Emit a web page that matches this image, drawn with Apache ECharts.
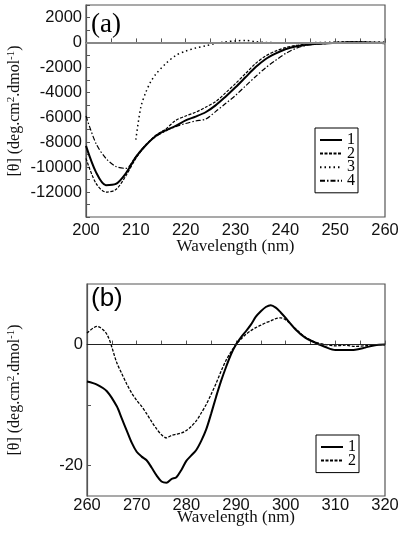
<!DOCTYPE html>
<html><head><meta charset="utf-8">
<script src="https://cdn.jsdelivr.net/npm/echarts@6/dist/echarts.min.js"></script>
<style>html,body{margin:0;padding:0;background:#fff}#c{width:400px;height:542px}</style>
</head><body><div id="c"></div>
<script>
// Panel (a)
const wlA = [200,202,204,206,208,210,212,214,216,218,220,222,224,226,228,230,232,234,236,238,240,242,244,246,248,250,252,254,256,258,260];
const a1 = [-8300,-10400,-11450,-11350,-10500,-9200,-8250,-7500,-7050,-6700,-6250,-5950,-5600,-5050,-4350,-3600,-2800,-2000,-1350,-900,-550,-320,-200,-130,-80,-30,0,20,0,-20,-50];
const a2 = [-9300,-11300,-12000,-11800,-10700,-9300,-8250,-7450,-6950,-6250,-5900,-5600,-5200,-4750,-4050,-3300,-2500,-1700,-1100,-700,-420,-250,-150,-100,-50,0,20,20,0,-30,-100];
const a4 = [-5900,-8100,-9300,-9950,-10100,-9150,-8200,-7550,-7100,-6750,-6500,-6300,-6150,-5550,-4900,-4250,-3500,-2750,-2050,-1450,-900,-500,-250,-150,-100,-50,0,20,0,-20,-50];
const wlA3 = [210,211,212,213,214,216,218,220,222,224,226,228,230,232,234,236,240,245,250,255,260];
const a3 = [-7800,-5200,-4000,-3150,-2550,-1700,-1050,-700,-450,-280,-80,50,120,160,60,0,-30,-20,20,50,20];
const namesA = ['1','2','3','4'];
const yLabelsA = [-12000,-10000,-8000,-6000,-4000,-2000,0,2000];
const xLabelsA = [200,210,220,230,240,250,260];

// Panel (b)
const wlB = [260,262,264,266,267,268,269,270,271,272,273,274,275,276,277,278,279,280,281,282,283,284,285,286,287,288,289,290,291,292,293,294,295,296,297,298,299,300,302,304,306,308,310,312,314,316,318,320];
const b1 = [-6.1,-6.6,-7.7,-10.2,-12.2,-14.2,-16.2,-17.7,-18.5,-19.1,-20.3,-21.6,-22.6,-22.8,-22.2,-21.9,-20.7,-19.2,-18.3,-17.4,-15.9,-14.0,-11.4,-8.6,-6.0,-3.7,-1.6,0,1.2,2.2,3.3,4.6,5.5,6.2,6.5,6.1,5.3,4.4,2.5,1.1,0.3,-0.4,-0.9,-0.9,-0.85,-0.5,-0.1,0];
const b2 = [1.9,3.0,1.7,-3.0,-4.8,-6.5,-8.0,-9.2,-10.2,-11.4,-12.7,-13.9,-14.9,-15.4,-15.0,-14.8,-14.6,-14.2,-13.5,-12.6,-11.3,-9.9,-8.2,-6.4,-4.4,-2.6,-1.2,0,0.9,1.7,2.3,2.8,3.2,3.6,3.9,4.3,4.4,4.1,2.6,1.2,0.4,0,-0.2,-0.1,-0.3,-0.2,0,0];
const namesB = ['1','2'];
const yLabelsB = [-20,0];
const xLabelsB = [260,270,280,290,300,310,320];

function range(a,b,s){const r=[];for(let v=a;v<=b+1e-9;v+=s)r.push(v);return r;}
const pairs=(xs,ys)=>xs.map((x,i)=>[x,ys[i]]);
const plain=v=>String(v);

const AX='#555';
const sans='Liberation Sans, Arial, sans-serif';
const serif='Liberation Serif, Times New Roman, serif';
const yName='{n|[θ] (deg.cm}{s|2}{n|.dmol}{s|-1}{n|)}';
const yNameStyle={rich:{n:{fontFamily:serif,fontSize:16,color:'#111',lineHeight:18},s:{fontFamily:serif,fontSize:11,color:'#111',lineHeight:11,verticalAlign:'top'}}};

function xAx(gi,min,max,labels,margin,gap){
  return {gridIndex:gi,type:'value',min:min,max:max,interval:10,
    axisLine:{show:true,lineStyle:{color:AX,width:1.2}},
    axisTick:{show:true,inside:true,length:4,customValues:range(min,max,5),lineStyle:{color:AX}},
    axisLabel:{customValues:labels,formatter:plain,margin:margin,fontFamily:sans,fontSize:16.5,color:'#111'},
    splitLine:{show:false},
    name:'Wavelength (nm)',nameLocation:'middle',nameGap:gap,nameMoveOverlap:false,
    nameTextStyle:{fontFamily:serif,fontSize:17,color:'#111'}};
}
function yAx(gi,min,max,interval,labels,ticks,gap){
  return {gridIndex:gi,type:'value',min:min,max:max,interval:interval,
    axisLine:{show:true,lineStyle:{color:AX,width:1.2}},
    axisTick:{show:true,inside:true,length:4,customValues:ticks,lineStyle:{color:AX}},
    axisLabel:{customValues:labels,formatter:plain,margin:4,fontFamily:sans,fontSize:16.5,color:'#111'},
    splitLine:{show:false},
    name:yName,nameLocation:'middle',nameGap:gap,nameMoveOverlap:false,nameTextStyle:yNameStyle};
}
const zeroLine=(color,width)=>({silent:true,symbol:['none','none'],label:{show:false},
  lineStyle:{color:color,width:width,type:'solid'},data:[{yAxis:0}]});
function line(name,xi,data,width,type,mark){
  const s={name:name,type:'line',xAxisIndex:xi,yAxisIndex:xi,data:data,symbol:'none',showSymbol:false,
    smooth:0.3,lineStyle:{color:'#000',width:width,type:type},itemStyle:{color:'#000'},z:3};
  if(mark)s.markLine=mark;
  return s;
}
const legendBase={orient:'vertical',itemWidth:22,itemHeight:12,itemGap:-2.4,padding:[4,3,4,4],
  borderColor:'#000',borderWidth:1,backgroundColor:'#fff',
  itemStyle:{opacity:0,color:'rgba(0,0,0,0)',borderColor:'rgba(0,0,0,0)',borderWidth:0},
  textStyle:{fontFamily:serif,fontSize:16,color:'#000',lineHeight:12}};

const chart=echarts.init(document.getElementById('c'),null,{renderer:'canvas'});
chart.setOption({
  animation:false,backgroundColor:'#fff',
  title:[
    {text:'(a)',left:91,top:11,padding:0,textStyle:{fontFamily:serif,fontSize:27,fontWeight:'normal',color:'#000'}},
    {text:'(b)',left:91,top:286,padding:0,textStyle:{fontFamily:sans,fontSize:26,fontWeight:'normal',color:'#000'}}
  ],
  grid:[
    {left:86,top:5,width:299,height:212,show:true,borderColor:AX,borderWidth:1.2,outerBoundsMode:'none'},
    {left:87,top:284,width:298,height:212,show:true,borderColor:AX,borderWidth:1.2,outerBoundsMode:'none'}
  ],
  xAxis:[xAx(0,200,260,xLabelsA,5,21),xAx(1,260,320,xLabelsB,1,13)],
  yAxis:[yAx(0,-14000,3000,1000,yLabelsA,range(-14000,3000,1000),62),
         yAx(1,-25,10,5,yLabelsB,[-20,-10,0],63)],
  legend:[
    Object.assign({},legendBase,{left:315,top:128,data:namesA}),
    Object.assign({},legendBase,{left:316,top:435,data:namesB})
  ],
  series:[
    line('1',0,pairs(wlA,a1),2,'solid',zeroLine('#888',2)),
    line('2',0,pairs(wlA,a2),1.2,[3,1.5]),
    line('3',0,pairs(wlA3,a3),1.5,[1.5,3]),
    line('4',0,pairs(wlA,a4),1.2,[5,2,1.5,2]),
    line('1',1,pairs(wlB,b1),2,'solid',zeroLine('#222',1)),
    line('2',1,pairs(wlB,b2),1.3,[3,1.5])
  ]
});
</script></body></html>
